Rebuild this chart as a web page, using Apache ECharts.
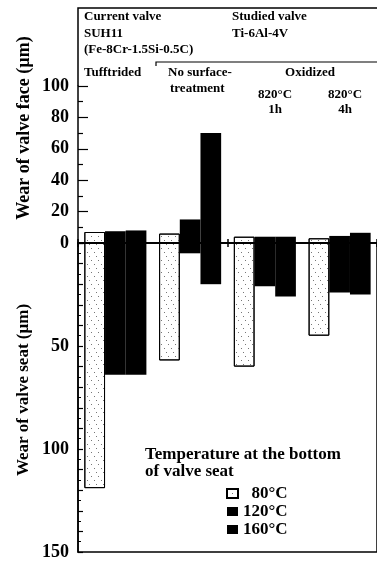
<!DOCTYPE html>
<html>
<head>
<meta charset="utf-8">
<style>
  html, body { margin: 0; padding: 0; background: #fff; }
  #chart { width: 377px; height: 561px; }
</style>
<script src="https://cdn.jsdelivr.net/npm/echarts@6/dist/echarts.min.js"></script>
</head>
<body>
<div id="chart"></div>
<script>
// valve groups, left to right
var categories = ['Tufftrided', 'No surface-treatment', 'Oxidized 820°C 1h', 'Oxidized 820°C 4h'];
var temps = ['80°C', '120°C', '160°C'];

// wear of valve face (um), upwards
var face80 = [7, 6, 4, 3];
var face120 = [7.5, 15, 4, 4.5];
var face160 = [8, 70, 4, 6.5];

// wear of valve seat (um), downwards
var seat80 = [119, 57, 60, 45];
var seat120 = [64, 5, 21, 24];
var seat160 = [64, 20, 26, 25];

var faceTicks = [0, 20, 40, 60, 80, 100];
var seatTicks = [50, 100, 150];

var FONT = "'Liberation Serif', 'DejaVu Serif', serif";

var chart = echarts.init(document.getElementById('chart'));

var dotted = {
    color: '#fff',
    borderColor: '#000',
    borderWidth: 1,
    decal: {
        symbol: 'rect',
        symbolSize: 1,
        dashArrayX: [[1, 6], [0, 3, 1, 3], [0, 5, 1, 1]],
        dashArrayY: [1, 3],
        color: '#777'
    }
};
var black = { color: '#000' };

function bar(name, data, idx, style) {
    return {
        name: name,
        type: 'bar',
        xAxisIndex: idx,
        yAxisIndex: idx,
        data: data,
        barGap: '0%',
        barCategoryGap: '17%',
        itemStyle: style,
        emphasis: { disabled: true }
    };
}

function txt(x, y, s, align, size) {
    return {
        type: 'text',
        x: x,
        y: y,
        style: {
            text: s,
            fill: '#000',
            font: 'bold ' + (size || 13) + 'px ' + FONT,
            textAlign: align || 'left',
            textVerticalAlign: 'middle'
        }
    };
}

var line = { color: '#000', width: 1.5 };
var tickLine = { color: '#000', width: 1.2 };

var option = {
    animation: false,
    backgroundColor: '#fff',
    grid: [
        { left: 78, top: 86, width: 304, height: 157 },
        { left: 78, top: 243, width: 304, height: 310, show: true, borderColor: '#000', borderWidth: 1.5 }
    ],
    xAxis: [
        {
            gridIndex: 0, type: 'category', data: categories, position: 'bottom',
            axisLine: { show: true, lineStyle: line },
            axisTick: { show: true, length: 4, lineStyle: line },
            axisLabel: { show: false }
        },
        {
            gridIndex: 1, type: 'category', data: categories, position: 'top',
            axisLine: { show: true, lineStyle: line },
            axisTick: { show: true, length: 4, lineStyle: line },
            axisLabel: { show: false }
        }
    ],
    yAxis: [
        {
            gridIndex: 0, type: 'value', min: 0, max: 100, interval: 20,
            axisLine: { show: true, lineStyle: line },
            axisTick: { show: true, inside: true, length: 10, lineStyle: tickLine },
            minorTick: { show: true, splitNumber: 2, length: 5, lineStyle: tickLine },
            splitLine: { show: false },
            minorSplitLine: { show: false },
            axisLabel: {
                margin: 9, color: '#000', fontSize: 18, fontWeight: 'bold', fontFamily: FONT,
                formatter: function (v) { return faceTicks.indexOf(v) >= 0 ? String(v) : ''; }
            }
        },
        {
            gridIndex: 1, type: 'value', min: 0, max: 150, interval: 10, inverse: true,
            axisLine: { show: true, lineStyle: line },
            axisTick: { show: true, inside: true, length: 5, lineStyle: tickLine },
            minorTick: { show: true, splitNumber: 2, length: 3, lineStyle: { color: '#000', width: 1 } },
            splitLine: { show: false },
            minorSplitLine: { show: false },
            axisLabel: {
                margin: 9, color: '#000', fontSize: 18, fontWeight: 'bold', fontFamily: FONT,
                formatter: function (v) { return seatTicks.indexOf(v) >= 0 ? String(v) : ''; }
            }
        }
    ],
    legend: {
        data: temps,
        orient: 'vertical',
        left: 226,
        top: 485,
        padding: 0,
        icon: 'rect',
        itemWidth: 11,
        itemHeight: 9,
        itemGap: 1,
        selectedMode: false,
        textStyle: { color: '#000', fontSize: 17, fontWeight: 'bold', fontFamily: FONT, lineHeight: 16 },
        formatter: function (n) { return n.length < 5 ? '\u2007' + n : n; }
    },
    graphic: [
        // frame above the 100 tick
        { type: 'polyline', shape: { points: [[78, 86], [78, 8], [382, 8]] }, style: { stroke: '#000', lineWidth: 1.5, fill: null } },
        { type: 'polyline', shape: { points: [[156, 66], [156, 62], [382, 62]] }, style: { stroke: '#000', lineWidth: 1.2, fill: null } },
        txt(84, 17, 'Current valve'),
        txt(84, 34, 'SUH11'),
        txt(84, 50, '(Fe-8Cr-1.5Si-0.5C)'),
        txt(232, 17, 'Studied valve'),
        txt(232, 34, 'Ti-6Al-4V'),
        txt(84, 73, 'Tufftrided'),
        txt(168, 73, 'No surface-'),
        txt(170, 89, 'treatment'),
        txt(310, 73, 'Oxidized', 'center'),
        txt(275, 95, '820°C', 'center'),
        txt(275, 110, '1h', 'center'),
        txt(345, 95, '820°C', 'center'),
        txt(345, 110, '4h', 'center'),
        txt(145, 455, 'Temperature at the bottom', 'left', 17),
        txt(145, 472, 'of valve seat', 'left', 17),
        {
            type: 'text', x: 24, y: 128, rotation: Math.PI / 2,
            style: { text: 'Wear of valve face (µm)', fill: '#000', font: 'bold 18px ' + FONT, textAlign: 'center', textVerticalAlign: 'middle' }
        },
        {
            type: 'text', x: 24, y: 390, rotation: Math.PI / 2,
            style: { text: 'Wear of valve seat (µm)', fill: '#000', font: 'bold 17px ' + FONT, textAlign: 'center', textVerticalAlign: 'middle' }
        }
    ],
    series: [
        bar(temps[0], face80, 0, dotted),
        bar(temps[1], face120, 0, black),
        bar(temps[2], face160, 0, black),
        bar(temps[0], seat80, 1, dotted),
        bar(temps[1], seat120, 1, black),
        bar(temps[2], seat160, 1, black)
    ]
};

chart.setOption(option);
</script>
</body>
</html>
